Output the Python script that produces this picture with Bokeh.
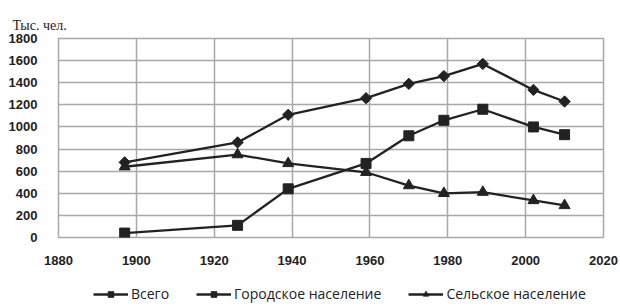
import math
from bokeh.plotting import figure
from bokeh.layouts import column
from bokeh.models import Legend, LegendItem, FixedTicker
from bokeh.embed import file_html
from bokeh.resources import INLINE

years = [1897, 1926, 1939, 1959, 1970, 1979, 1989, 2002, 2010]
total = [680, 860, 1110, 1260, 1390, 1460, 1570, 1335, 1230]
urban = [40, 110, 440, 670, 920, 1060, 1160, 1000, 930]
rural = [640, 750, 670, 590, 470, 400, 410, 335, 290]

x_ticks = [1880, 1900, 1920, 1940, 1960, 1980, 2000, 2020]
y_ticks = [0, 200, 400, 600, 800, 1000, 1200, 1400, 1600, 1800]
unit_label = "Тыс. чел."
names = ["Всего", "Городское население", "Сельское население"]

C = "#222222"
GRID = "#a8a8a8"

p = figure(frame_width=545, frame_height=199, x_range=(1880, 2020), y_range=(0, 1800),
           output_backend="svg", toolbar_location=None,
           min_border_left=58, min_border_right=17, min_border_top=38, min_border_bottom=31)

p.title.text = unit_label
p.title.align = "left"
p.title.offset = -46
p.title.text_font = "Liberation Serif"
p.title.text_font_style = "normal"
p.title.text_font_size = "14px"
p.title.text_color = "#222222"
p.title.standoff = 11

p.outline_line_color = GRID
p.outline_line_width = 1.5
p.xgrid.grid_line_color = GRID
p.ygrid.grid_line_color = GRID
p.xgrid.grid_line_width = 1.5
p.ygrid.grid_line_width = 1.5
p.xaxis.ticker = FixedTicker(ticks=x_ticks)
p.yaxis.ticker = FixedTicker(ticks=y_ticks)
for ax in (p.xaxis, p.yaxis):
    ax.axis_line_color = None
    ax.major_tick_line_color = None
    ax.minor_tick_line_color = None
    ax.major_label_text_font = "Liberation Sans"
    ax.major_label_text_font_style = "bold"
    ax.major_label_text_font_size = "13px"
    ax.major_label_text_color = "#222222"
p.xaxis.major_label_standoff = 12
p.yaxis.major_label_standoff = 15

styles = [dict(marker="square", size=8, angle=math.pi / 4),
          dict(marker="square", size=10, angle=0),
          dict(marker="triangle", size=11, angle=0)]

series = [total, urban, rural]
for ys, st in zip(series, styles):
    p.line(years, ys, line_color=C, line_width=2.3)
    p.scatter(years, ys, fill_color=C, line_color=C, **st)

# legend strip below the chart (its ranges keep the series out of view; only the legend shows)
lg = figure(width=620, height=36, x_range=(0, 1), y_range=(0, 1),
            output_backend="svg", toolbar_location=None,
            x_axis_location=None, y_axis_location=None,
            min_border_left=0, min_border_right=0, min_border_top=0, min_border_bottom=0)
lg.outline_line_color = None
lg.grid.visible = False

items = []
for name, ys, st in zip(names, series, styles):
    rl = lg.line(years, ys, line_color=C, line_width=2.3)
    rm = lg.scatter(years, ys, fill_color=C, line_color=C, **st)
    items.append(LegendItem(label=name, renderers=[rl, rm]))

legend = Legend(items=items, orientation="horizontal", location=(35, 1),
                glyph_width=35, glyph_height=14, label_standoff=3, spacing=27,
                padding=0, margin=0, border_line_color=None, background_fill_color=None,
                background_fill_alpha=0, border_line_alpha=0,
                label_text_font="Open Sans", label_text_font_size="14px", label_text_color="#222222")
lg.add_layout(legend, "center")

layout = column(p, lg, spacing=0)
open("out.html", "w").write(file_html(layout, INLINE))
